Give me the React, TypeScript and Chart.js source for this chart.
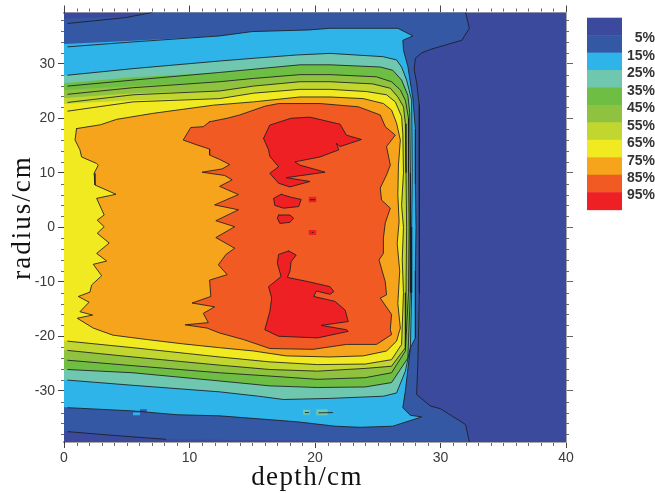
import React, { useEffect, useRef } from "react";
import { Chart, registerables } from "chart.js";

Chart.register(...registerables);

type P = [number, number];

const xMajor = [0, 10, 20, 30, 40];
const yMajor = [-30, -20, -10, 0, 10, 20, 30];
const xLimits: P = [0, 40];
const yLimits: P = [-39.4, 39.4];

const legendLabels = ["5%", "15%", "25%", "35%", "45%", "55%", "65%", "75%", "85%", "95%"];
const bandColors = ["#3C4A9E", "#3558A5", "#2EB4E9", "#6EC7AE", "#6FBE44", "#8FC23E", "#C1D72F", "#F2EA21", "#F5A41B", "#F15A22", "#EE2024"];

const c5TopLeft: P[] = [[0.3, 37.4], [2.5, 37.9], [5, 38.5], [7, 39.4]];
const c5Wall: P[] = [[32, 39.4], [32.3, 36.5], [31.7, 34.3], [29.3, 32.7], [28.5, 32], [28, 31], [27.9, 29], [28.1, 26.5], [28.3, 22.5], [28.3, 10], [28.35, 0], [28.3, -12], [28.2, -24.5], [28.1, -30.7], [29.2, -32.8], [30, -33.3], [32, -36.2], [32.3, -39.4]];
const c5BottomLeft: P[] = [[0.3, -37.5], [4, -38.2], [8.1, -38.9]];

const c15: P[] = [[0.3, 33.1], [5.5, 34], [12.4, 35.1], [15, 35.9], [19.5, 36.2], [21.2, 36.5], [26.6, 36.5], [27.8, 35.1], [27, 34.3], [27.05, 32.5], [27.4, 29.5], [27.8, 23.6], [28, 18], [28, 8], [28.05, 0], [28, -8], [28, -20.3], [27.6, -22.1], [27.2, -30], [27, -33.1], [27.6, -34.5], [28.5, -34.8], [26.2, -36.5], [23.6, -36.7], [21.6, -36.5], [18.6, -35.7], [12.4, -34.6], [9, -34.4], [5.5, -33.7], [0.3, -33.1]];
const c25: P[] = [[0.3, 27.9], [5.5, 29.1], [12.4, 30.5], [15.1, 31], [18.5, 31.6], [21.2, 31.9], [25.4, 31.3], [26.5, 30.7], [26.9, 29.4], [27.3, 27], [27.7, 23.3], [27.75, 10], [27.7, 0], [27.7, -12], [27.6, -22], [27.2, -26.4], [26.5, -30.4], [25.45, -31], [21.2, -31.4], [17.5, -31.6], [15.5, -31], [12.4, -30.2], [5.5, -29], [0.3, -28.05]];
const c35: P[] = [[0.3, 25.9], [5.5, 27], [12.4, 28.4], [15.6, 29.1], [18.8, 29.8], [21.2, 29.8], [25.2, 29.4], [26.2, 28.8], [26.9, 27], [27.4, 24.2], [27.55, 21], [27.6, 10], [27.6, 0], [27.6, -12], [27.4, -24], [26.1, -28.5], [24, -29.3], [20.2, -29.4], [16.4, -29.1], [12.4, -28.2], [5.5, -26.7], [0.3, -26.1]];
const c45: P[] = [[0.3, 24.4], [5.5, 25.6], [12.4, 26.7], [15.1, 27.3], [18.8, 28], [21.2, 28], [24.9, 27.6], [26.1, 26.7], [26.8, 25.2], [27.2, 23.3], [27.45, 20], [27.45, 10], [27.5, 0], [27.45, -12], [27.2, -22.7], [26.1, -26.7], [24, -27.6], [20.2, -27.9], [16.4, -27.3], [12.4, -26.7], [5.5, -25.4], [0.3, -24.4]];
const c55: P[] = [[0.3, 22.9], [5.5, 24.3], [12.4, 25], [15.1, 25.9], [18.8, 26.7], [21.2, 26.7], [24.6, 26.3], [26, 25.5], [26.6, 23.9], [27.05, 22.1], [27.2, 19], [27.25, 10], [27.3, 0], [27.25, -12], [27.2, -22.1], [26.1, -25.5], [24, -25.9], [20.2, -26.4], [16.4, -26.1], [12.4, -25.3], [5.5, -23.8], [0.3, -22.6]];
const c65: P[] = [[0.3, 21.3], [5.5, 23], [12.4, 23.6], [15.1, 24.6], [18.8, 25.3], [21.2, 25.3], [24.1, 24.9], [25.7, 24.3], [26.4, 23], [26.9, 20.3], [27, 17], [27.05, 10], [26.9, 4], [27.05, 0], [26.95, -6], [27.05, -12], [26.9, -21.5], [26.1, -24.3], [24, -25.1], [20.2, -25.2], [16.4, -24.7], [12.4, -23.8], [5.5, -22.1], [0.3, -20.9]];
const c75: P[] = [[1, 18.1], [0.88, 16], [1.27, 14.2], [1.4, 12.9], [2.6, 11.7], [2.73, 11.4], [2.4, 9.9], [2.47, 7.75], [4.14, 6.05], [2.6, 5.3], [3.2, 2.25], [2.65, 1.3], [3.2, 0.1], [2.65, -1.1], [3.6, -2.9], [2.6, -4.8], [3.4, -6.2], [2.33, -6.8], [3, -8.9], [2.2, -10.6], [2.07, -11.9], [1.14, -12.7], [2, -13.75], [1.27, -15.5], [2.28, -16.1], [1.06, -16.7], [2.33, -18.5], [3.9, -19.8], [6.6, -20.6], [9.5, -21.4], [12.4, -22.1], [15.1, -22.7], [17.7, -23.6], [21.2, -23.8], [23.85, -23.6], [25.7, -22.7], [26.5, -20.9], [26.8, -18.5], [26.6, -14], [26.75, -8], [26.55, -3], [26.7, 1], [26.6, 6], [26.65, 11.4], [26.8, 16], [26.5, 19.1], [26.1, 21.5], [25.45, 22.7], [23.85, 23.6], [21.2, 23.9], [18.8, 23.9], [15.1, 23], [11.9, 22.4], [7.1, 20.9], [4.2, 19.8], [2.9, 18.8], [1, 18.1]];
const c85: P[] = [[11.6, 19.35], [11.1, 18.45], [10.1, 18.3], [9.5, 16], [10.6, 15.1], [11.6, 14.35], [11.6, 13.25], [12.4, 12.45], [13.2, 11.5], [12.6, 10.7], [11, 10.1], [12.8, 9.5], [13.4, 8.7], [12.4, 7.5], [13.9, 6], [12, 4.1], [13.9, 3.2], [12.1, 1.2], [13.6, 0.1], [12.1, -1.9], [13.6, -3.85], [12.9, -5], [12.3, -6.9], [13, -8.7], [11.6, -9.7], [11.7, -12.7], [10.2, -13.9], [12, -14.6], [11.1, -15.8], [11.5, -17.5], [9.65, -17.9], [11.4, -18.5], [12.4, -19.4], [14.3, -20.6], [16.4, -22.25], [19.85, -22.4], [22.5, -21.5], [24.9, -21.5], [26.1, -19.7], [26, -18.8], [26.1, -16], [25.2, -13], [25.7, -12.4], [25.6, -10], [25.1, -6], [25.45, -4.8], [25.45, -2], [25.6, 0.8], [26, 3.5], [25.3, 5], [25.2, 7.2], [25.7, 9.6], [26, 11.4], [25.7, 14.8], [26.4, 16.9], [25.6, 18.45], [25.2, 20.6], [23.45, 22.1], [20.4, 22.7], [17.1, 22.7], [16, 22.2], [14, 20.6], [13, 20], [11.6, 19.35]];
const c95a: P[] = [[15.9, 16.3], [16.4, 18.75], [18.1, 20], [19.6, 20.2], [22, 18.9], [22.5, 16.9], [23.7, 16.1], [22, 14.8], [21.7, 15.4], [21.9, 14.2], [20.4, 12.9], [18.4, 12], [18.8, 11.4], [20.8, 10.1], [17.7, 9.1], [19.6, 8.4], [18, 7.4], [17.1, 8.07], [16.4, 9.9], [17.1, 11.1], [16.4, 13], [16.3, 14.2], [15.9, 16.3]];
const c95b: P[] = [[17.3, 6.05], [18.1, 5.5], [18.9, 5.1], [18.7, 3.8], [17.5, 3.5], [16.8, 4], [16.7, 5.3], [17.3, 6.05]];
const c95c: P[] = [[17.1, 2.25], [18, 2.25], [18.3, 1.65], [18, 0.9], [17.2, 0.7], [17, 1.65], [17.1, 2.25]];
const c95d: P[] = [[17.9, -4.35], [18.5, -5.1], [18.1, -6.3], [18, -8.1], [17.8, -9.2], [19.5, -10], [21.2, -10.9], [21.5, -11.8], [21.2, -12.3], [20.1, -11.7], [19.9, -12.7], [21.6, -13.6], [22.4, -15.2], [22.65, -17.3], [20.5, -18], [22.5, -18.8], [22.65, -19.1], [20.2, -20.3], [17.1, -20], [16, -18.8], [16.4, -15.5], [16.55, -13], [16.3, -10.9], [17.3, -9.05], [17, -6.6], [17.1, -5], [17.9, -4.35]];

// colour-block edges near the left side, where the fill sits a little above the contour
const fillEdge5: P[] = [[0, 38.3], [2.5, 38.5]];
const fillEdge15: P[] = [[0, 33.6], [5.5, 34.2]];
const fillEdge35: P[] = [[0, 26.4], [5.5, 27.5]];
const fillEdge45: P[] = [[0, 25.2], [5.5, 25.9]];
const fillEdge55: P[] = [[0, 23.7], [5.5, 24.6]];
const fillEdge65: P[] = [[0, 22.6], [5.5, 23.3]];

// small single-cell features: [x0, x1, y0, y1, band index]
const cells: [number, number, number, number, number][] = [
  [19.5, 20.1, 4.6, 5.6, 10],
  [19.5, 20.1, -1.4, -0.5, 10],
  [19.05, 19.6, -34.4, -33.5, 3],
  [20.1, 21, -34.5, -33.4, 3],
  [6.05, 6.6, -34, -33.4, 1],
  [5.5, 6.05, -34.5, -34, 2],
];
const shortLines: P[][] = [
  [[19.6, 5.05], [20, 5.05]],
  [[19.75, -0.95], [19.85, -0.95]],
  [[19.2, -34], [19.5, -34]],
  [[20.3, -34.05], [21.4, -34]],
];

const fillBands: { band: number; pts: P[] }[] = [
  { band: 1, pts: [...fillEdge5, [5, 38.6], [7, 39.4], ...c5Wall, ...[...c5BottomLeft].reverse(), [0, -37.4]] as P[] },
  { band: 2, pts: [...fillEdge15, ...c15.slice(2), [0, -33]] as P[] },
  { band: 3, pts: [[0, 27.8], ...c25, [0, -28]] as P[] },
  { band: 4, pts: [...fillEdge35, ...c35.slice(2), [0, -26]] as P[] },
  { band: 5, pts: [...fillEdge45, ...c45.slice(2), [0, -24.3]] as P[] },
  { band: 6, pts: [...fillEdge55, ...c55.slice(2), [0, -22.5]] as P[] },
  { band: 7, pts: [...fillEdge65, ...c65.slice(2), [0, -20.8]] as P[] },
  { band: 8, pts: c75 },
  { band: 9, pts: c85 },
  { band: 10, pts: c95a },
  { band: 10, pts: c95b },
  { band: 10, pts: c95c },
  { band: 10, pts: c95d },
];
const contourLines: P[][] = [c5TopLeft, c5Wall, c5BottomLeft, c15, c25, c35, c45, c55, c65, c75, c85, c95a, c95b, c95c, c95d, ...shortLines];

const toXY = (pts: P[]) => pts.map(([x, y]) => ({ x, y }));
const AREA = { left: 64, right: 566, top: 12.5, bottom: 442 };

function buildDatasets() {
  const base = { showLine: true, pointRadius: 0, pointHoverRadius: 0, tension: 0 };
  const ds: any[] = [];
  let order = 1000;
  ds.push({ ...base, order: order--, data: toXY([[xLimits[0], yLimits[1]], [xLimits[1], yLimits[1]], [xLimits[1], yLimits[0]], [xLimits[0], yLimits[0]]]), fill: "shape", backgroundColor: bandColors[0], borderWidth: 0 });
  for (const f of fillBands) {
    ds.push({ ...base, order: order--, data: toXY(f.pts), fill: "shape", backgroundColor: bandColors[f.band], borderWidth: 0 });
  }
  for (const [x0, x1, y0, y1, b] of cells) {
    ds.push({ ...base, order: order--, data: toXY([[x0, y0], [x1, y0], [x1, y1], [x0, y1]]), fill: "shape", backgroundColor: bandColors[b], borderWidth: 0 });
  }
  for (const l of contourLines) {
    ds.push({ ...base, order: order--, data: toXY(l), fill: false, borderColor: "#1c1c24", borderWidth: 0.85, borderCapStyle: "round", borderJoinStyle: "round" });
  }
  return ds;
}

const minorTicksPlugin = {
  id: "minorTicks",
  afterDraw(chart: any) {
    const { ctx, scales } = chart;
    const { left, right, top, bottom } = chart.chartArea;
    ctx.save();
    ctx.strokeStyle = "#6a6a6a";
    ctx.lineWidth = 1;
    ctx.beginPath();
    for (let v = 1; v < 40; v++) {
      if (v % 10 === 0) continue;
      const x = Math.round(scales.x.getPixelForValue(v)) + 0.5;
      ctx.moveTo(x, top - 1);
      ctx.lineTo(x, top - 4);
      ctx.moveTo(x, bottom + 1);
      ctx.lineTo(x, bottom + 4);
    }
    for (let v = -38; v <= 38; v += 2) {
      if (v % 10 === 0) continue;
      const y = Math.round(scales.y.getPixelForValue(v)) + 0.5;
      ctx.moveTo(left, y);
      ctx.lineTo(left - 3, y);
      ctx.moveTo(right, y);
      ctx.lineTo(right + 3, y);
    }
    ctx.stroke();
    ctx.restore();
  },
};

const legendPlugin = {
  id: "bandLegend",
  afterDraw(chart: any) {
    const { ctx } = chart;
    const x0 = 587, w = 35, y0 = 17.7, step = 17.45;
    ctx.save();
    bandColors.forEach((c, i) => {
      ctx.fillStyle = c;
      ctx.fillRect(x0, y0 + i * step, w, step + 0.5);
    });
    ctx.fillStyle = "#333333";
    ctx.font = "bold 14px 'Liberation Sans'";
    ctx.textAlign = "right";
    ctx.textBaseline = "middle";
    legendLabels.forEach((t, i) => {
      ctx.fillText(t, 655, 38.5 + i * 17.45);
    });
    ctx.restore();
  },
};

const xTitle = "depth/cm";
const yTitle = "radius/cm";

const axisTitlePlugin = {
  id: "axisTitles",
  afterDraw(chart: any) {
    const { ctx } = chart;
    ctx.save();
    ctx.fillStyle = "#111111";
    ctx.font = "27px 'Liberation Serif'";
    ctx.textAlign = "center";
    ctx.textBaseline = "alphabetic";
    ctx.letterSpacing = "1.4px";
    ctx.fillText(xTitle, 307, 484.7);
    ctx.translate(29.5, 217.5);
    ctx.rotate(-Math.PI / 2);
    ctx.letterSpacing = "2px";
    ctx.fillText(yTitle, 0, 0);
    ctx.restore();
  },
};

const frameColor = "#a8a8a8";

export default function App() {
  const ref = useRef<HTMLCanvasElement>(null);
  useEffect(() => {
    if (!ref.current) return;
    const tickFont = { family: "'Liberation Sans'", size: 14 };
    const setTicks = (vals: number[]) => (scale: any) => {
      scale.ticks = vals.map((value) => ({ value }));
    };
    const chart = new Chart(ref.current, {
      type: "scatter",
      data: { datasets: buildDatasets() },
      plugins: [minorTicksPlugin, legendPlugin, axisTitlePlugin],
      options: {
        animation: false,
        responsive: false,
        layout: { padding: 0 },
        plugins: { legend: { display: false }, tooltip: { enabled: false } },
        scales: {
          x: {
            type: "linear", position: "bottom", min: xLimits[0], max: xLimits[1],
            afterBuildTicks: setTicks(xMajor),
            afterFit: (s: any) => { s.height = 493 - AREA.bottom; },
            ticks: { font: tickFont, color: "#3a3a3a", padding: 2, maxRotation: 0, autoSkip: false, callback: (v: any) => String(v) },
            grid: { drawOnChartArea: false, tickLength: 6, tickColor: "#444444" },
            border: { color: frameColor, width: 2 },
          },
          x2: {
            type: "linear", position: "top", min: xLimits[0], max: xLimits[1],
            afterBuildTicks: setTicks(xMajor),
            afterFit: (s: any) => { s.height = AREA.top; },
            ticks: { display: false },
            grid: { drawOnChartArea: false, tickLength: 7, tickColor: "#444444" },
            border: { color: frameColor, width: 2 },
          },
          y: {
            type: "linear", position: "left", min: yLimits[0], max: yLimits[1],
            afterBuildTicks: setTicks(yMajor),
            afterFit: (s: any) => { s.width = AREA.left; },
            ticks: { font: tickFont, color: "#3a3a3a", padding: 3, autoSkip: false, callback: (v: any) => String(v) },
            grid: { drawOnChartArea: false, tickLength: 6, tickColor: "#444444" },
            border: { color: "#222222", width: 1 },
          },
          y2: {
            type: "linear", position: "right", min: yLimits[0], max: yLimits[1],
            afterBuildTicks: setTicks(yMajor),
            afterFit: (s: any) => { s.width = 655 - AREA.right; },
            ticks: { display: false },
            grid: { drawOnChartArea: false, tickLength: 7, tickColor: "#666666" },
            border: { color: frameColor, width: 1 },
          },
        },
      } as any,
    });
    return () => chart.destroy();
  }, []);
  return (
    <div style={{ position: "fixed", left: 0, top: 0, width: 655, height: 493, background: "#fff" }}>
      <canvas ref={ref} width={655} height={493} style={{ display: "block" }} />
    </div>
  );
}
